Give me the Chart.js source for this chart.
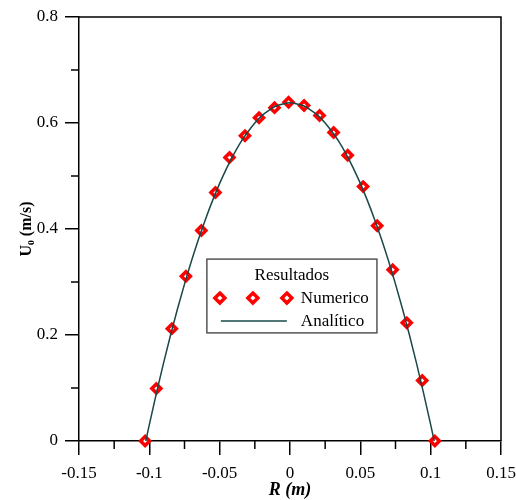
<!DOCTYPE html>
<html>
<head>
<meta charset="utf-8">
<script src="https://cdn.jsdelivr.net/npm/chart.js@4.4.0/dist/chart.umd.min.js"></script>
<style>
  html, body { margin: 0; padding: 0; background: #fff; }
</style>
</head>
<body>
<canvas id="grafico" width="516" height="500"></canvas>
<script>
// valores
const radioNum = [-0.103, -0.095, -0.084, -0.074, -0.063, -0.053, -0.043, -0.032, -0.022, -0.011, -0.001,
                  0.010, 0.021, 0.031, 0.041, 0.052, 0.062, 0.073, 0.083, 0.094, 0.103];
const velNum = [0, 0.099, 0.212, 0.311, 0.397, 0.469, 0.535, 0.576, 0.610, 0.629, 0.639,
                0.633, 0.614, 0.582, 0.539, 0.480, 0.406, 0.323, 0.223, 0.114, 0];

const radioAna = [-0.1025, -0.1, -0.095, -0.09, -0.085, -0.08, -0.075, -0.07, -0.065, -0.06, -0.055,
                  -0.05, -0.045, -0.04, -0.035, -0.03, -0.025, -0.02, -0.015, -0.01, -0.005, 0,
                  0.005, 0.01, 0.015, 0.02, 0.025, 0.03, 0.035, 0.04, 0.045, 0.05,
                  0.055, 0.06, 0.065, 0.07, 0.075, 0.08, 0.085, 0.09, 0.095, 0.1, 0.1025];
const velAna = [0, 0.031, 0.090, 0.146, 0.199, 0.249, 0.296, 0.340, 0.381, 0.419, 0.454,
                0.486, 0.515, 0.541, 0.564, 0.583, 0.600, 0.614, 0.624, 0.632, 0.636, 0.638,
                0.636, 0.632, 0.624, 0.614, 0.600, 0.583, 0.564, 0.541, 0.515, 0.486,
                0.454, 0.419, 0.381, 0.340, 0.296, 0.249, 0.199, 0.146, 0.090, 0.031, 0];

const xTicks = [-0.15, -0.1, -0.05, 0, 0.05, 0.1, 0.15];
const xTickLabels = ['-0.15', '-0.1', '-0.05', '0', '0.05', '0.1', '0.15'];
const yTicks = [0, 0.2, 0.4, 0.6, 0.8];
const yTickLabels = ['0', '0.2', '0.4', '0.6', '0.8'];

const FUENTE = "'Liberation Serif', 'Times New Roman', serif";
const ROJO = '#ff0000';
const LINEA = '#1a4848';

function rombo(ctx, cx, cy, r) {
  ctx.beginPath();
  ctx.moveTo(cx, cy - r);
  ctx.lineTo(cx + r, cy);
  ctx.lineTo(cx, cy + r);
  ctx.lineTo(cx - r, cy);
  ctx.closePath();
  ctx.fill();
  ctx.stroke();
}

// marco superior/derecho y ticks menores
const marco = {
  id: 'marco',
  afterDraw(chart) {
    const { ctx, chartArea: a, scales: { x, y } } = chart;
    ctx.save();
    ctx.strokeStyle = '#000';
    ctx.lineWidth = 1.5;
    ctx.beginPath();
    ctx.moveTo(a.left, a.top);
    ctx.lineTo(a.right, a.top);
    ctx.lineTo(a.right, a.bottom);
    ctx.stroke();

    for (let i = 0; i < xTicks.length - 1; i++) {
      const px = x.getPixelForValue((xTicks[i] + xTicks[i + 1]) / 2);
      ctx.beginPath();
      ctx.moveTo(px, a.bottom);
      ctx.lineTo(px, a.bottom + 8);
      ctx.stroke();
    }
    for (let i = 0; i < yTicks.length - 1; i++) {
      const py = y.getPixelForValue((yTicks[i] + yTicks[i + 1]) / 2);
      ctx.beginPath();
      ctx.moveTo(a.left, py);
      ctx.lineTo(a.left - 8, py);
      ctx.stroke();
    }
    ctx.restore();
  }
};

// leyenda dentro del area
const leyenda = {
  id: 'leyenda',
  afterDraw(chart) {
    const { ctx, chartArea: a } = chart;
    const w = a.right - a.left, h = a.bottom - a.top;
    const L = a.left + 0.303 * w, R = a.left + 0.706 * w;
    const T = a.top + 0.571 * h, B = a.top + 0.745 * h;
    ctx.save();
    ctx.fillStyle = '#fff';
    ctx.fillRect(L, T, R - L, B - T);
    ctx.strokeStyle = '#555';
    ctx.lineWidth = 1.5;
    ctx.strokeRect(L, T, R - L, B - T);

    ctx.fillStyle = '#000';
    ctx.font = '17px ' + FUENTE;
    ctx.textBaseline = 'middle';
    ctx.textAlign = 'center';
    ctx.fillText('Resultados', (L + R) / 2, T + 16);
    ctx.textAlign = 'left';
    ctx.fillText('Numerico', L + 94, T + 39);
    ctx.fillText('Analítico', L + 94, T + 62);

    ctx.strokeStyle = ROJO;
    ctx.fillStyle = '#fff';
    ctx.lineWidth = 3.5;
    [13, 46, 80].forEach(dx => rombo(ctx, L + dx, T + 39, 5));

    ctx.strokeStyle = LINEA;
    ctx.lineWidth = 1.5;
    ctx.beginPath();
    ctx.moveTo(L + 14, T + 62);
    ctx.lineTo(L + 80, T + 62);
    ctx.stroke();
    ctx.restore();
  }
};

const ctx = document.getElementById('grafico').getContext('2d');
new Chart(ctx, {
  type: 'scatter',
  data: {
    datasets: [
      {
        label: 'Analítico',
        data: radioAna.map((r, i) => ({ x: r, y: velAna[i] })),
        showLine: true,
        borderColor: LINEA,
        borderWidth: 1.5,
        pointRadius: 0,
        cubicInterpolationMode: 'monotone',
        clip: false,
        order: 0
      },
      {
        label: 'Numerico',
        data: radioNum.map((r, i) => ({ x: r, y: velNum[i] })),
        showLine: false,
        pointStyle: 'rectRot',
        pointRadius: 4.5,
        pointBorderWidth: 3.5,
        pointBorderColor: ROJO,
        pointBackgroundColor: '#fff',
        clip: false,
        order: 1
      }
    ]
  },
  options: {
    responsive: false,
    animation: false,
    events: [],
    layout: { padding: { top: 17, right: 15, left: 0, bottom: 0 } },
    plugins: {
      legend: { display: false },
      tooltip: { enabled: false }
    },
    scales: {
      x: {
        type: 'linear',
        min: -0.15,
        max: 0.15,
        afterBuildTicks: s => { s.ticks = xTicks.map(v => ({ value: v })); },
        afterFit: s => { s.height = 59; s.paddingLeft = 0; s.paddingRight = 0; },
        ticks: {
          color: '#000',
          font: { family: FUENTE, size: 17 },
          padding: 8,
          maxRotation: 0,
          callback: v => xTickLabels[xTicks.indexOf(v)]
        },
        grid: { drawOnChartArea: false, drawTicks: true, tickLength: 14, tickColor: '#000', lineWidth: 1.5 },
        border: { display: true, color: '#000', width: 1.5 },
        title: {
          display: true,
          text: 'R (m)',
          color: '#000',
          font: { family: FUENTE, size: 18, weight: 'bold', style: 'italic', lineHeight: 1 },
          padding: { top: 0, bottom: 1 }
        }
      },
      y: {
        type: 'linear',
        min: 0,
        max: 0.8,
        afterBuildTicks: s => { s.ticks = yTicks.map(v => ({ value: v })); },
        afterFit: s => { s.width = 79; s.paddingTop = 0; s.paddingBottom = 0; },
        ticks: {
          color: '#000',
          font: { family: FUENTE, size: 17 },
          padding: 7,
          callback: v => yTickLabels[yTicks.indexOf(v)]
        },
        grid: { drawOnChartArea: false, drawTicks: true, tickLength: 14, tickColor: '#000', lineWidth: 1.5 },
        border: { display: true, color: '#000', width: 1.5 },
        title: {
          display: true,
          text: 'U₀ (m/s)',
          color: '#000',
          font: { family: FUENTE, size: 16, weight: 'bold' },
          padding: { top: 17, bottom: 0 }
        }
      }
    }
  },
  plugins: [marco, leyenda]
});
</script>
</body>
</html>
